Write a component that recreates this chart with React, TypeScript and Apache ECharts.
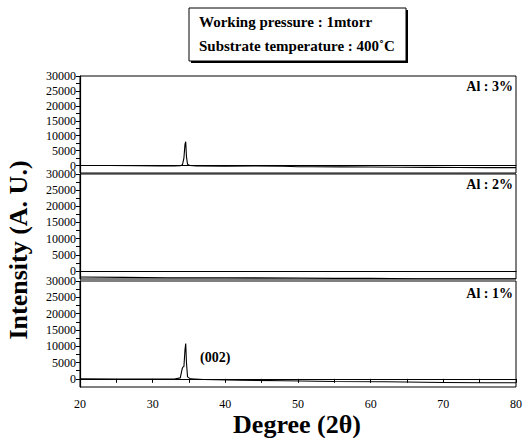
import React, { useEffect, useRef } from "react";
import * as echarts from "echarts";

// ---- data ----
const panelLabels = ["Al : 3%", "Al : 2%", "Al : 1%"];
const titleLines = ["Working pressure : 1mtorr", "Substrate temperature : 400˚C"];
const xTickLabels = [20, 30, 40, 50, 60, 70, 80];
const yTickLabels = [0, 5000, 10000, 15000, 20000, 25000, 30000];

const deg3 = [20, 24, 28, 31, 33, 33.8, 34.1, 34.3, 34.45, 34.55, 34.65, 34.8, 35.1, 36, 40, 44, 48, 50, 52, 56, 60, 64, 68, 72, 76, 80];
const int3 = [0, 0, -50, -100, -100, -50, 300, 2500, 7200, 8000, 3000, 400, 0, -150, -200, -150, -250, -400, -400, -450, -500, -550, -600, -650, -700, -700];

const deg2 = [20, 26, 32, 40, 50, 55, 60, 66, 72, 80];
const int2 = [-1900, -2000, -2100, -2100, -2200, -2300, -2300, -2400, -2400, -2400];

const deg1 = [20, 25, 30, 33, 33.8, 34.05, 34.15, 34.3, 34.45, 34.55, 34.65, 34.8, 35.2, 37, 42, 48, 55, 62, 70, 76, 80];
const int1 = [0, -50, -100, -50, 300, 3000, 3600, 3800, 9000, 10800, 5000, 600, 0, -200, -400, -600, -800, -900, -1100, -1200, -1200];

const peakLabel = "(002)";
const peakLabelPos = [38.6, 6500];

const FONT = '"Liberation Serif", "Times New Roman", serif';

export default function App() {
  const ref = useRef<HTMLDivElement>(null);
  useEffect(() => {
    if (!ref.current) return;
    const chart = echarts.init(ref.current, null, { renderer: "svg" });
    const grids = [
      { left: 80, right: 11, top: 76, height: 97 },
      { left: 80, right: 11, top: 174, height: 105 },
      { left: 80, right: 11, top: 281, height: 106 },
    ].map((g) => ({ ...g, show: true, borderColor: "#000", borderWidth: 1, backgroundColor: "transparent" }));

    const xAxes = [0, 1, 2].map((i) => ({
      type: "value",
      gridIndex: i,
      min: 20,
      max: 80,
      interval: 5,
      axisLine: { show: true, lineStyle: { color: "#000", width: 1.2 } },
      axisTick: { show: i === 2, length: 4, lineStyle: { color: "#000" } },
      splitLine: { show: false },
      axisLabel: {
        show: i === 2,
        color: "#000",
        fontFamily: FONT,
        fontSize: 12,
        margin: 11,
        formatter: (v: number) => (xTickLabels.includes(v) ? String(v) : ""),
      },
    }));

    const yAxes = [0, 1, 2].map((i) => ({
      type: "value",
      gridIndex: i,
      min: -2500,
      max: 30000,
      interval: 2500,
      axisLine: { show: true, lineStyle: { color: "#000", width: 1.2 } },
      axisTick: { show: true, length: 4, lineStyle: { color: "#000" } },
      splitLine: { show: false },
      axisLabel: {
        color: "#000",
        fontFamily: FONT,
        fontSize: 12,
        margin: 4,
        showMinLabel: false,
        formatter: (v: number) => (yTickLabels.includes(v) ? String(v) : ""),
      },
    }));

    const mk = (xs: number[], ys: number[]) => xs.map((x, k) => [x, ys[k]]);
    const lineStyle = { color: "#000", width: 1.1 };

    chart.setOption({
      animation: false,
      grid: grids,
      xAxis: xAxes,
      yAxis: yAxes,
      series: [
        { type: "line", xAxisIndex: 0, yAxisIndex: 0, data: mk(deg3, int3), showSymbol: false, lineStyle },
        { type: "line", xAxisIndex: 1, yAxisIndex: 1, data: mk(deg2, int2), showSymbol: false, lineStyle },
        {
          type: "line",
          xAxisIndex: 2,
          yAxisIndex: 2,
          data: mk(deg1, int1),
          showSymbol: false,
          lineStyle,
          markPoint: {
            symbol: "circle",
            symbolSize: 1,
            itemStyle: { color: "rgba(0,0,0,0)" },
            label: {
              show: true,
              position: "inside",
              formatter: peakLabel,
              color: "#000",
              fontFamily: FONT,
              fontWeight: "bold",
              fontSize: 14,
            },
            data: [{ coord: peakLabelPos }],
          },
        },
      ],
      graphic: [
        { type: "rect", shape: { x: 191, y: 10, width: 217, height: 53 }, style: { fill: "#000" } },
        { type: "rect", shape: { x: 189, y: 8, width: 217, height: 53 }, style: { fill: "#fff", stroke: "#000", lineWidth: 1 } },
        {
          type: "text",
          x: 199,
          y: 22,
          style: { text: titleLines[0], font: `bold 15px ${FONT}`, fill: "#000", textVerticalAlign: "middle" },
        },
        {
          type: "text",
          x: 199,
          y: 46,
          style: { text: titleLines[1], font: `bold 15px ${FONT}`, fill: "#000", textVerticalAlign: "middle" },
        },
        ...panelLabels.map((t, i) => ({
          type: "text",
          x: 513,
          y: [86, 184, 293][i],
          style: { text: t, font: `bold 14px ${FONT}`, fill: "#000", textAlign: "right", textVerticalAlign: "middle" },
        })),
        {
          type: "text",
          x: 18,
          y: 250,
          rotation: Math.PI / 2,
          style: {
            text: "Intensity (A. U.)",
            font: `bold 26px ${FONT}`,
            fill: "#000",
            textAlign: "center",
            textVerticalAlign: "middle",
          },
        },
        {
          type: "text",
          x: 297,
          y: 424,
          style: {
            text: "Degree (2θ)",
            font: `bold 26px ${FONT}`,
            fill: "#000",
            textAlign: "center",
            textVerticalAlign: "middle",
          },
        },
      ],
    });
    return () => chart.dispose();
  }, []);
  return <div ref={ref} style={{ position: "fixed", left: 0, top: 0, width: 527, height: 438, background: "#fff" }} />;
}
